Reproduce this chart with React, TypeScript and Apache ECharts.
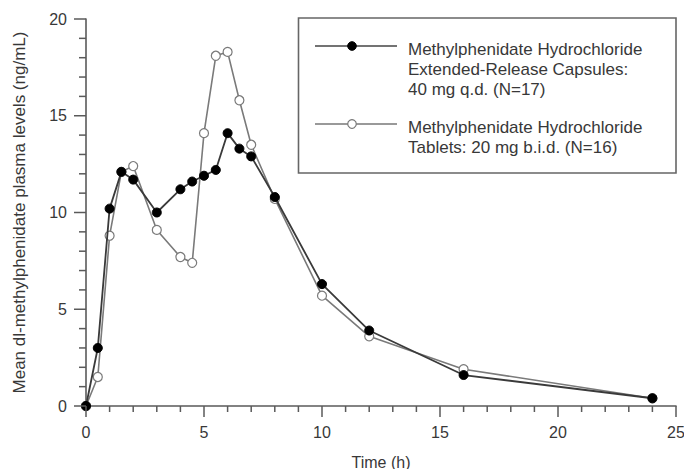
import React, { useEffect, useRef } from "react";
import * as echarts from "echarts";

const timesH = [0, 0.5, 1, 1.5, 2, 3, 4, 4.5, 5, 5.5, 6, 6.5, 7, 8, 10, 12, 16, 24];
const capsules40qd = [0, 3.0, 10.2, 12.1, 11.7, 10.0, 11.2, 11.6, 11.9, 12.2, 14.1, 13.3, 12.9, 10.8, 6.3, 3.9, 1.6, 0.4];
const tablets20bid = [0, 1.5, 8.8, 12.1, 12.4, 9.1, 7.7, 7.4, 14.1, 18.1, 18.3, 15.8, 13.5, 10.7, 5.7, 3.6, 1.9, 0.4];

const xMajorTicks = [0, 5, 10, 15, 20, 25];
const yMajorTicks = [0, 5, 10, 15, 20];
const minorStep = 1;

const legendCapsules = "Methylphenidate Hydrochloride\nExtended-Release Capsules:\n40 mg q.d. (N=17)";
const legendTablets = "Methylphenidate Hydrochloride\nTablets: 20 mg b.i.d. (N=16)";
const xTitle = "Time (h)";
const yTitle = "Mean dl-methylphenidate plasma levels (ng/mL)";

const FONT = "Liberation Sans, Arial, Helvetica, sans-serif";
const TEXT = "#383838";
const AXIS = "#5a5a5a";

export default function App() {
  const ref = useRef<HTMLDivElement>(null);
  useEffect(() => {
    if (!ref.current) return;
    const chart = echarts.init(ref.current, undefined, { renderer: "svg" });
    const xMax = xMajorTicks[xMajorTicks.length - 1];
    const yMax = yMajorTicks[yMajorTicks.length - 1];
    const axisCommon = {
      type: "value",
      axisLine: { show: true, onZero: false, lineStyle: { color: AXIS, width: 1.6 } },
      axisTick: { show: false },
      splitLine: { show: false },
      axisLabel: { color: TEXT, fontFamily: FONT, fontSize: 16 },
    };
    const legendEls: any[] = [
      { type: "rect", id: "lgBox", shape: { x: 298.5, y: 18, width: 377.5, height: 155 }, style: { fill: "#fff", stroke: "#666", lineWidth: 1.6 }, z: 10 },
      { type: "line", id: "lgLine1", shape: { x1: 315, y1: 46, x2: 397, y2: 46 }, style: { stroke: "#444", lineWidth: 1.6 }, z: 11 },
      { type: "circle", id: "lgDot1", shape: { cx: 352, cy: 46, r: 4.3 }, style: { fill: "#000", stroke: "#000", lineWidth: 1 }, z: 12 },
      { type: "text", id: "lgText1", x: 408, y: 39, style: { text: legendCapsules, fill: TEXT, font: `17px ${FONT}`, lineHeight: 20, textVerticalAlign: "top" }, z: 11 },
      { type: "line", id: "lgLine2", shape: { x1: 315, y1: 124, x2: 397, y2: 124 }, style: { stroke: "#777", lineWidth: 1.6 }, z: 11 },
      { type: "circle", id: "lgDot2", shape: { cx: 352, cy: 124, r: 4.3 }, style: { fill: "#fff", stroke: "#777", lineWidth: 1.2 }, z: 12 },
      { type: "text", id: "lgText2", x: 408, y: 117, style: { text: legendTablets, fill: TEXT, font: `17px ${FONT}`, lineHeight: 20, textVerticalAlign: "top" }, z: 11 },
    ];
    chart.setOption({
      animation: false,
      backgroundColor: "#fff",
      grid: { left: 86, right: 8, top: 19, bottom: 63, containLabel: false, outerBoundsMode: "none" },
      xAxis: {
        ...axisCommon,
        min: 0,
        max: xMax,
        interval: 5,
        name: xTitle,
        nameLocation: "middle",
        nameGap: 48,
        nameTextStyle: { color: TEXT, fontFamily: FONT, fontSize: 16 },
        axisLabel: { ...axisCommon.axisLabel, margin: 18 },
      },
      yAxis: {
        ...axisCommon,
        min: 0,
        max: yMax,
        interval: 5,
        name: yTitle,
        nameLocation: "middle",
        nameGap: 58,
        nameRotate: 90,
        nameTextStyle: { color: TEXT, fontFamily: FONT, fontSize: 17 },
        axisLabel: { ...axisCommon.axisLabel, margin: 19 },
      },
      graphic: legendEls,
      series: [
        {
          name: "Tablets 20 mg b.i.d.",
          type: "line",
          data: timesH.map((t, i) => [t, tablets20bid[i]]),
          symbol: "circle",
          symbolSize: 9,
          lineStyle: { color: "#7a7a7a", width: 1.6 },
          itemStyle: { color: "#fff", borderColor: "#7a7a7a", borderWidth: 1.2 },
          z: 2,
        },
        {
          name: "Extended-Release Capsules 40 mg q.d.",
          type: "line",
          data: timesH.map((t, i) => [t, capsules40qd[i]]),
          symbol: "circle",
          symbolSize: 9,
          lineStyle: { color: "#3a3a3a", width: 1.8 },
          itemStyle: { color: "#000", borderColor: "#000", borderWidth: 1 },
          z: 3,
        },
      ],
    });

    // tick marks placed through the chart's own axis scales (top-level graphic elements)
    const ticks: any[] = [];
    try {
      const y0 = chart.convertToPixel({ yAxisIndex: 0 }, 0) as number;
      const x0 = chart.convertToPixel({ xAxisIndex: 0 }, 0) as number;
      for (let v = 0; v <= xMax; v += minorStep) {
        const major = xMajorTicks.includes(v);
        const px = chart.convertToPixel({ xAxisIndex: 0 }, v) as number;
        ticks.push({
          type: "line",
          id: "xt" + v,
          shape: { x1: px, y1: y0, x2: px, y2: y0 + (major ? 11 : 6) },
          style: { stroke: AXIS, lineWidth: 1.5 },
          silent: true,
          z: 5,
        });
      }
      for (let v = 0; v <= yMax; v += minorStep) {
        const major = yMajorTicks.includes(v);
        const py = chart.convertToPixel({ yAxisIndex: 0 }, v) as number;
        ticks.push({
          type: "line",
          id: "yt" + v,
          shape: { x1: x0 - (major ? 12 : 7), y1: py, x2: x0, y2: py },
          style: { stroke: AXIS, lineWidth: 1.5 },
          silent: true,
          z: 5,
        });
      }
    } catch (e) {
      // no ticks if conversion fails
    }
    chart.setOption({ graphic: [...legendEls, ...ticks] });

    return () => chart.dispose();
  }, []);
  return <div ref={ref} style={{ position: "fixed", left: 0, top: 0, width: 684, height: 469 }} />;
}
